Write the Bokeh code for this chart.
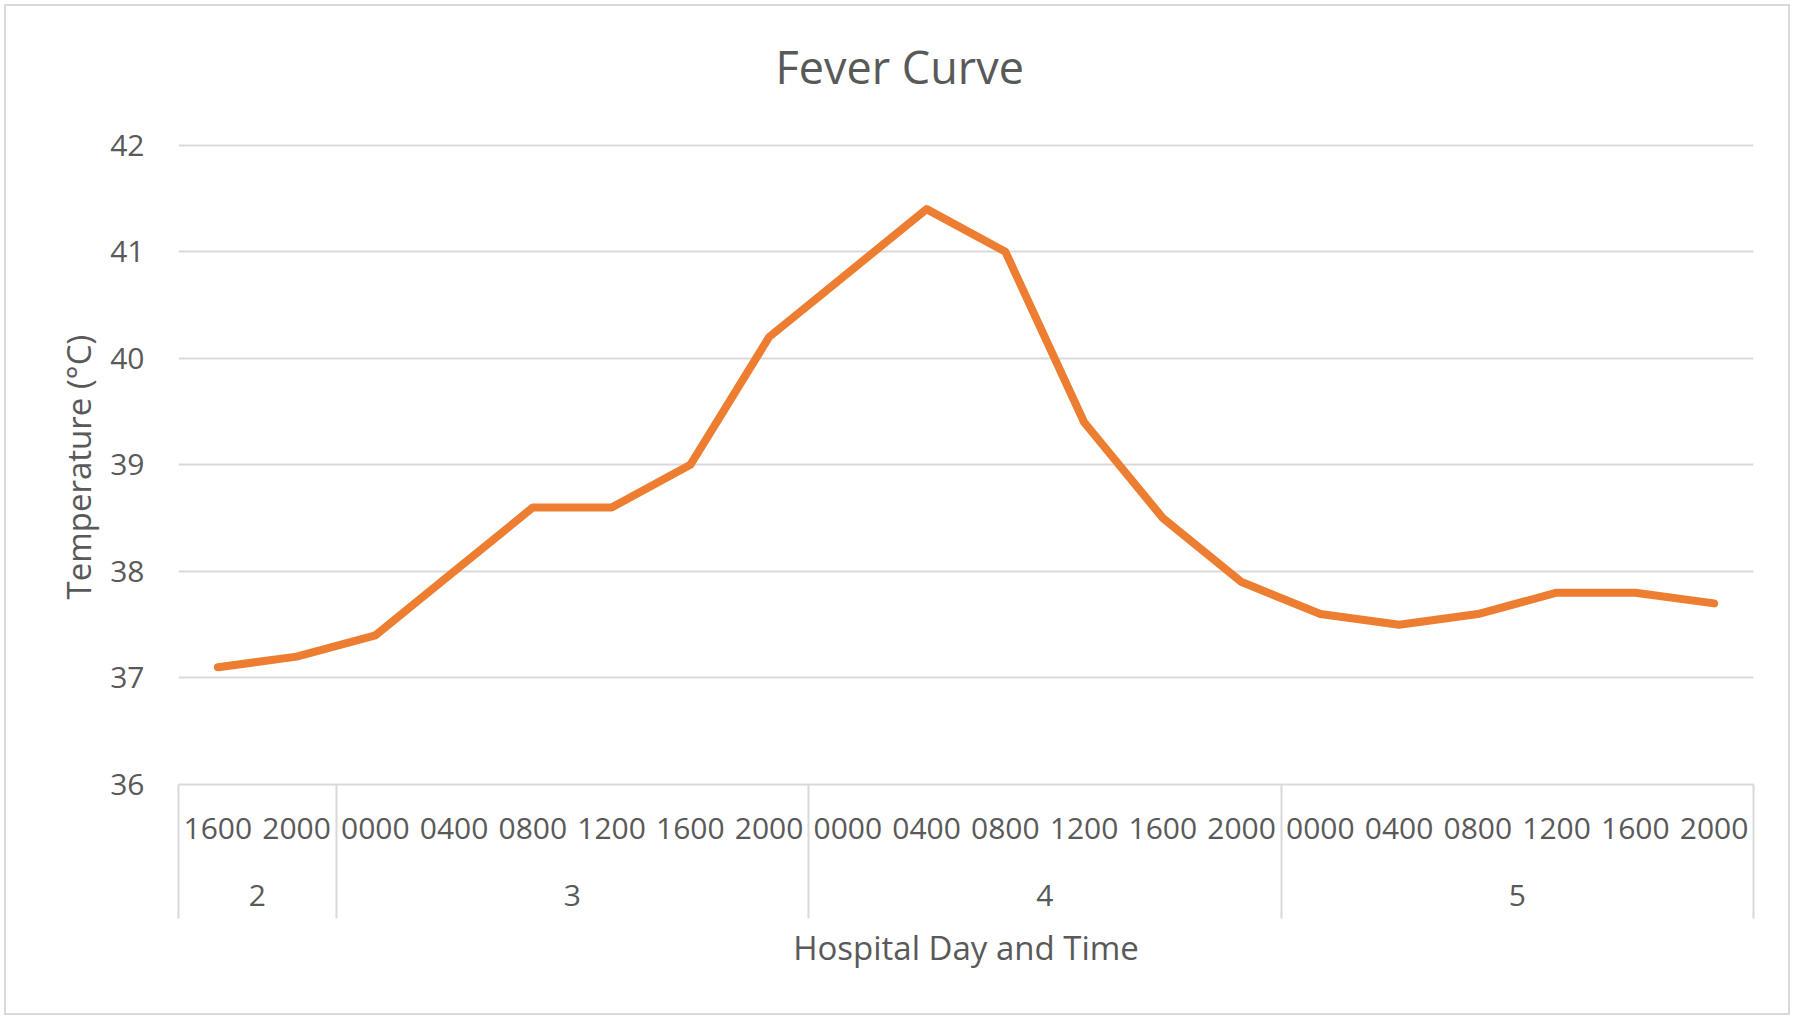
from bokeh.plotting import figure
from bokeh.models import FixedTicker, LinearAxis, Range1d, Title
from bokeh.embed import file_html
from bokeh.resources import INLINE

# ---- data ----
days = ["2", "2", "3", "3", "3", "3", "3", "3", "4", "4", "4", "4", "4", "4",
        "5", "5", "5", "5", "5", "5"]
times = ["1600", "2000", "0000", "0400", "0800", "1200", "1600", "2000",
         "0000", "0400", "0800", "1200", "1600", "2000",
         "0000", "0400", "0800", "1200", "1600", "2000"]
temps = [37.1, 37.2, 37.4, 38.0, 38.6, 38.6, 39.0, 40.2, 40.8, 41.4, 41.0,
         39.4, 38.5, 37.9, 37.6, 37.5, 37.6, 37.8, 37.8, 37.7]
y_ticks = [36, 37, 38, 39, 40, 41, 42]
title_text = "Fever Curve"
x_title = "Hospital Day and Time"
y_title = "Temperature (°C)"

TXT = "#595959"
GRID = "#D9D9D9"
FONT = "Open Sans"

n = len(times)
# each category occupies 2 units so that centres are integers
xs = [2 * i + 1 for i in range(n)]

# day groups
groups = []
for i, d in enumerate(days):
    if groups and groups[-1][0] == d:
        groups[-1][2] = i + 1
    else:
        groups.append([d, i, i + 1])
day_centres = [g[1] + g[2] for g in groups]
separators = [2 * g[1] for g in groups] + [2 * n]

W, H = 1786, 1011
ML, MR, MT, MB = 172, 39, 95, 233
Y_TOP_PAD = 0.41          # empty space above the top gridline (room for title)
SEP_LEN = 134
p = figure(width=W, height=H, output_backend="svg", toolbar_location=None,
           x_range=Range1d(0, 2 * n),
           y_range=Range1d(y_ticks[0], y_ticks[-1] + Y_TOP_PAD),
           min_border_left=ML, min_border_right=MR, min_border_top=MT,
           min_border_bottom=MB, x_axis_location=None,
           styles={"border": "2px solid #D9D9D9", "margin-left": "4px",
                   "margin-top": "4px"})
p.outline_line_color = None
p.background_fill_color = "white"
p.border_fill_color = "white"

# title
p.title.text = title_text
p.title.align = "left"
p.title.offset = 597
p.title.standoff = 10
p.title.vertical_align = "bottom"
p.title.text_font = FONT
p.title.text_font_size = "45px"
p.title.text_font_style = "normal"
p.title.text_color = TXT

# y axis
ya = p.yaxis[0]
ya.ticker = FixedTicker(ticks=y_ticks)
ya.axis_line_color = None
ya.major_tick_line_color = None
ya.minor_tick_line_color = None
ya.major_label_standoff = 28
ya.major_label_text_font = FONT
ya.major_label_text_font_size = "30px"
ya.major_label_text_color = TXT

# y-axis title, centred on the 36..42 span (not on the padded frame)
ytitle = Title(text=y_title, align="left", offset=185, standoff=14,
               vertical_align="bottom", text_font=FONT,
               text_font_size="33px", text_font_style="normal",
               text_color=TXT)
p.add_layout(ytitle, "left")

p.ygrid.ticker = FixedTicker(ticks=y_ticks)
p.ygrid.grid_line_color = GRID
p.ygrid.grid_line_width = 2
p.xgrid.grid_line_color = None

# time-of-day axis (with group separators as minor ticks)
ta = LinearAxis(ticker=FixedTicker(ticks=xs, minor_ticks=separators))
ta.major_label_overrides = {x: t for x, t in zip(xs, times)}
ta.axis_line_color = GRID
ta.axis_line_width = 2
ta.major_tick_line_color = None
ta.major_tick_out = 0
ta.major_tick_in = 0
ta.minor_tick_line_color = GRID
ta.minor_tick_line_width = 2
ta.minor_tick_out = SEP_LEN
ta.minor_tick_in = 0
ta.major_label_standoff = -101
ta.major_label_text_font = FONT
ta.major_label_text_font_size = "30px"
ta.major_label_text_color = TXT
p.add_layout(ta, "below")

# day axis
da = LinearAxis(ticker=FixedTicker(ticks=day_centres, minor_ticks=[]))
da.major_label_overrides = {c: g[0] for c, g in zip(day_centres, groups)}
da.axis_line_color = None
da.major_tick_line_color = None
da.major_tick_out = 0
da.major_tick_in = 0
da.minor_tick_line_color = None
da.major_label_standoff = 43
da.major_label_text_font = FONT
da.major_label_text_font_size = "30px"
da.major_label_text_color = TXT
da.axis_label = x_title
da.axis_label_text_font = FONT
da.axis_label_text_font_size = "33px"
da.axis_label_text_font_style = "normal"
da.axis_label_text_color = TXT
da.axis_label_standoff = 16
p.add_layout(da, "below")

# series
p.line(xs, temps, line_color="#ED7D31", line_width=8,
       line_cap="round", line_join="round")

open("out.html", "w").write(file_html(p, INLINE))
